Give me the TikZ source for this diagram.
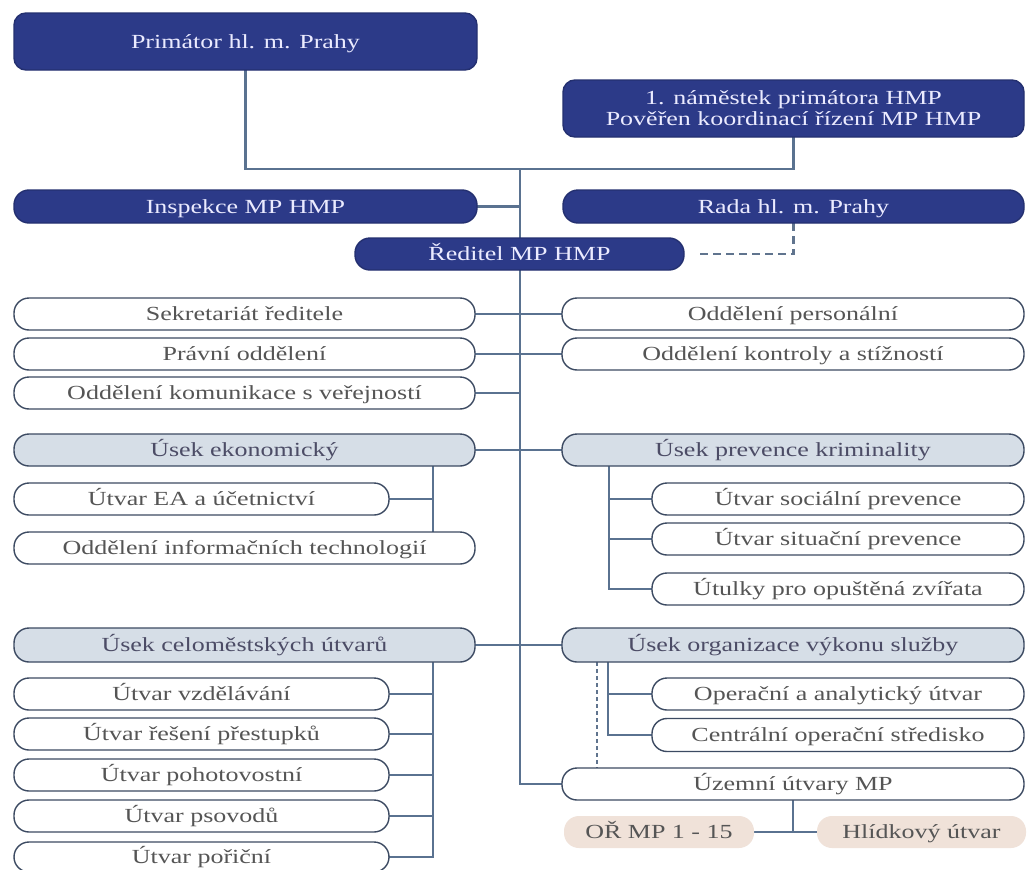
\documentclass[tikz,border=0pt]{standalone}
\usepackage{fontspec}
\setmainfont{Liberation Serif}[FakeStretch=1.3]
\usetikzlibrary{backgrounds}
\definecolor{navy}{HTML}{2C3A88}
\definecolor{navyedge}{HTML}{243070}
\definecolor{edge}{HTML}{3C4A62}
\definecolor{conn}{HTML}{5A7290}
\definecolor{usek}{HTML}{D6DEE7}
\definecolor{beige}{HTML}{F0E2D9}
\definecolor{txt}{HTML}{555555}
\tikzset{
  base/.style={rectangle, inner sep=0pt, outer sep=0pt, align=center,
    font=\fontsize{20}{21}\selectfont, line width=1.4pt, text height=13pt, text depth=0pt},
  navybox/.style={base, fill=navy, draw=navyedge, text=white!92!blue, rounded corners=12pt},
  wbox/.style={base, fill=white, draw=edge, text=txt, rounded corners=15pt},
  ubox/.style={base, fill=usek, draw=edge, text=txt!90!blue, rounded corners=15pt},
  bbox/.style={base, fill=beige, draw=none, text=txt, rounded corners=15pt},
  link/.style={draw=conn, line width=2.2pt},
  dlink/.style={draw=conn!85!gray, line width=2.2pt, dash pattern=on 8pt off 5pt},
  olink/.style={draw=conn!85!gray, line width=2.2pt, dash pattern=on 4pt off 3pt},
}
\begin{document}
\begin{tikzpicture}[x=1pt,y=-1pt]
\useasboundingbox (0,0) rectangle (1029,870);
% top
\node[navybox, minimum width=463pt, minimum height=57pt] (prim) at (245.5,41.5) {Primátor hl. m. Prahy};
\node[navybox, text height=34pt, text depth=0pt, minimum width=461pt, minimum height=57pt] (nam) at (793.5,108.5) {1. náměstek primátora HMP\\Pověřen koordinací řízení MP HMP};
\node[navybox, rounded corners=15pt, minimum width=463pt, minimum height=33pt] (insp) at (245.5,206.5) {Inspekce MP HMP};
\node[navybox, rounded corners=15pt, minimum width=461pt, minimum height=33pt] (rada) at (793.5,206.5) {Rada hl. m. Prahy};
\node[navybox, rounded corners=15pt, minimum width=329pt, minimum height=32pt] (red) at (519.5,254) {Ředitel MP HMP};
% left column
\node[wbox, minimum width=461pt, minimum height=32pt] (sek) at (244.5,314) {Sekretariát ředitele};
\node[wbox, minimum width=461pt, minimum height=32pt] (prav) at (244.5,354) {Právní oddělení};
\node[wbox, minimum width=461pt, minimum height=32pt] (kom) at (244.5,393) {Oddělení komunikace s veřejností};
\node[ubox, minimum width=461pt, minimum height=32pt] (eko) at (244.5,450) {Úsek ekonomický};
\node[wbox, minimum width=375pt, minimum height=32pt] (ea) at (201.5,499) {Útvar EA a účetnictví};
\node[wbox, minimum width=461pt, minimum height=32pt] (it) at (244.5,548) {Oddělení informačních technologií};
\node[ubox, minimum width=461pt, minimum height=34pt] (celo) at (244.5,645) {Úsek celoměstských útvarů};
\node[wbox, minimum width=375pt, minimum height=32pt] (vzd) at (201.5,694) {Útvar vzdělávání};
\node[wbox, minimum width=375pt, minimum height=32pt] (pres) at (201.5,734) {Útvar řešení přestupků};
\node[wbox, minimum width=375pt, minimum height=32pt] (poh) at (201.5,775) {Útvar pohotovostní};
\node[wbox, minimum width=375pt, minimum height=32pt] (pso) at (201.5,816) {Útvar psovodů};
\node[wbox, minimum width=375pt, minimum height=30pt] (por) at (201.5,857) {Útvar pořiční};
% right column
\node[wbox, minimum width=462pt, minimum height=32pt] (pers) at (793,314) {Oddělení personální};
\node[wbox, minimum width=462pt, minimum height=32pt] (kontr) at (793,354) {Oddělení kontroly a stížností};
\node[ubox, minimum width=462pt, minimum height=32pt] (prev) at (793,450) {Úsek prevence kriminality};
\node[wbox, minimum width=372pt, minimum height=32pt] (soc) at (838,499) {Útvar sociální prevence};
\node[wbox, minimum width=372pt, minimum height=32pt] (sit) at (838,539) {Útvar situační prevence};
\node[wbox, minimum width=372pt, minimum height=32pt] (utul) at (838,589) {Útulky pro opuštěná zvířata};
\node[ubox, minimum width=462pt, minimum height=34pt] (org) at (793,645) {Úsek organizace výkonu služby};
\node[wbox, minimum width=372pt, minimum height=32pt] (oper) at (838,694) {Operační a analytický útvar};
\node[wbox, minimum width=372pt, minimum height=33pt] (centr) at (838,735) {Centrální operační středisko};
\node[wbox, minimum width=462pt, minimum height=32pt] (uzem) at (793,784) {Územní útvary MP};
\node[bbox, minimum width=190pt, minimum height=32pt] (or) at (659,832) {OŘ MP 1 - 15};
\node[bbox, minimum width=209pt, minimum height=32pt] (hlid) at (921.5,832) {Hlídkový útvar};
% coordinates
\coordinate (top) at (520,169);
\coordinate (eb) at (433,466);
\coordinate (eb2) at (433,532);
\coordinate (pb) at (609,466);
\coordinate (cb) at (433,662);
\coordinate (ob) at (608,662);
\coordinate (od) at (597,662);
\begin{scope}[on background layer]
\fill[white] (0,0) rectangle (1029,870);
\draw[link] (prim.south) |- (top);
\draw[link] (nam.south) |- (top);
\draw[link] (top) |- (uzem.west);
\draw[link] (insp.east) -- (insp.east -| top);
\foreach \n in {sek,prav,kom,eko,celo} \draw[link] (\n.east) -- (\n.east -| top);
\foreach \n in {pers,kontr,prev,org} \draw[link] (\n.west) -- (\n.west -| top);
\draw[dlink, shorten >=13pt] (rada.south) |- (red.east);
\draw[link] (eb) -- (eb2);
\draw[link] (ea.east) -- (ea.east -| eb);
\draw[link] (pb) |- (utul.west);
\draw[link] (soc.west) -- (soc.west -| pb);
\draw[link] (sit.west) -- (sit.west -| pb);
\draw[link] (cb) |- (por.east);
\foreach \n in {vzd,pres,poh,pso} \draw[link] (\n.east) -- (\n.east -| cb);
\draw[link] (ob) |- (centr.west);
\draw[link] (oper.west) -- (oper.west -| ob);
\draw[olink] (od) -- (od |- uzem.north);
\draw[link] (uzem.south) -- (uzem.south |- or.east);
\draw[link] (or.east) -- (hlid.west);
\end{scope}
\end{tikzpicture}
\end{document}
